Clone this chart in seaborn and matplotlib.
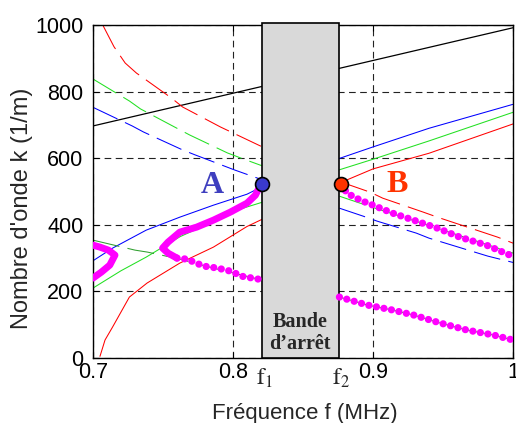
import matplotlib
matplotlib.use("Agg")
import matplotlib.pyplot as plt
from matplotlib.patches import Rectangle
import seaborn as sns

# frequences f (MHz) et nombres d'onde k (1/m) lus sur la figure
# --- branches montantes
blue_up_l_f = [0.700, 0.714, 0.738, 0.762, 0.786, 0.810, 0.821]
blue_up_l_k = [292, 330, 384, 423, 459, 492, 515]
green_up_l_f = [0.700, 0.720, 0.738, 0.762, 0.786, 0.798, 0.821]
green_up_l_k = [210, 262, 303, 364, 410, 438, 468]
red_up_l_f = [0.705, 0.7086, 0.714, 0.726, 0.7386, 0.762, 0.786, 0.810, 0.821]
red_up_l_k = [5, 54, 93, 183, 225, 285, 333, 395, 417]
blue_up_r_f = [0.875, 0.900, 0.940, 1.000]
blue_up_r_k = [598, 634, 690, 762]
green_up_r_f = [0.875, 0.900, 0.940, 1.000]
green_up_r_k = [564, 597, 652, 738]
red_up_r_f = [0.8775, 0.900, 0.940, 1.000]
red_up_r_k = [528, 568, 615, 703]
black_f = [0.700, 1.000]
black_k = [697, 992]

# --- branches descendantes
red_dn_l_f = [0.707, 0.715, 0.723, 0.731, 0.756, 0.764, 0.791, 0.800, 0.821]
red_dn_l_k = [1000, 935, 886, 856, 781, 754, 694, 676, 634]
green_dn_l_f = [0.700, 0.726, 0.734, 0.760, 0.769, 0.796, 0.806, 0.821]
green_dn_l_k = [838, 772, 748, 690, 670, 616, 600, 577]
blue_dn_l_f = [0.700, 0.728, 0.736, 0.764, 0.773, 0.801, 0.811, 0.821]
blue_dn_l_k = [753, 697, 679, 625, 610, 565, 550, 535]
green_low_l_f = [0.700, 0.730, 0.739, 0.762, 0.786, 0.818]
green_low_l_k = [354, 324, 318, 297, 270, 237]
red_dn_r_f = [0.8775, 0.898, 0.907, 0.936, 0.946, 0.989, 1.000]
red_dn_r_k = [528, 498, 480, 438, 423, 363, 345]
green_dn_r_f = [0.876, 0.900, 0.940, 1.000]
green_dn_r_k = [486, 452, 398, 315]
blue_dn_r_f = [0.876, 0.893, 0.903, 0.931, 0.940, 0.982, 1.000]
blue_dn_r_k = [450, 426, 411, 375, 360, 306, 287]
green_low_r_f = [0.876, 0.896, 0.914, 0.929, 0.948, 0.967, 0.986, 1.000]
green_low_r_k = [183, 159, 144, 129, 105, 84, 69, 54]

# --- courbes magenta (mode couple)
mag1_f = [0.700, 0.705, 0.711, 0.7157, 0.712, 0.706, 0.700]
mag1_k = [339, 333, 324, 309, 279, 258, 240]
mag2_f = [0.760, 0.7536, 0.7497, 0.7536, 0.762, 0.774, 0.786, 0.798, 0.810, 0.816, 0.8185, 0.8207]
mag2_k = [300, 315, 330, 348, 378, 393, 414, 438, 465, 489, 510, 522]
mag2_dots_f = [0.760, 0.767, 0.779, 0.789, 0.798, 0.807, 0.818]
mag2_dots_k = [300, 297, 276, 270, 261, 245, 237]
mag3_f = [0.8775, 0.8814, 0.891, 0.900, 0.914, 0.929, 0.946, 0.962, 0.981, 1.000]
mag3_k = [522, 495, 474, 459, 435, 414, 390, 363, 339, 305]
mag4_f = green_low_r_f
mag4_k = green_low_r_k

# bande d'arret et points A / B
f1 = 0.8207
f2 = 0.8755
pt_A = (0.8207, 522)
pt_B = (0.8775, 522)

xticks = [0.7, 0.8, 0.9, 1.0]
xtick_labels = ["0.7", "0.8", "0.9", "1"]
yticks = [0, 200, 400, 600, 800, 1000]

RED, GREEN, BLUE, MAG = "#ff0000", "#22e022", "#0000ff", "#ff00ff"
DASH = (0, (26, 8))


def trace(ax, f, k, color, lw=0.75, ls="-", z=2, **kw):
    sns.lineplot(x=f, y=k, sort=False, estimator=None, color=color, lw=lw,
                 linestyle=ls, ax=ax, zorder=z, **kw)


def main():
    sns.set_style("ticks")
    plt.rcParams["font.family"] = ["Liberation Sans", "DejaVu Sans"]
    plt.rcParams["mathtext.fontset"] = "stix"

    fig = plt.figure(figsize=(5.16, 4.23), dpi=100)
    ax = fig.add_axes([0.1802, 0.1537, 0.814, 0.787])

    # montantes
    trace(ax, black_f, black_k, "black", lw=0.9)
    trace(ax, blue_up_l_f, blue_up_l_k, BLUE)
    trace(ax, green_up_l_f, green_up_l_k, GREEN)
    trace(ax, red_up_l_f, red_up_l_k, RED)
    trace(ax, blue_up_r_f, blue_up_r_k, BLUE)
    trace(ax, green_up_r_f, green_up_r_k, GREEN)
    trace(ax, red_up_r_f, red_up_r_k, RED)
    # descendantes (traits interrompus)
    trace(ax, red_dn_l_f, red_dn_l_k, RED, ls=DASH)
    trace(ax, green_dn_l_f, green_dn_l_k, GREEN, ls=DASH)
    trace(ax, blue_dn_l_f, blue_dn_l_k, BLUE, ls=DASH)
    trace(ax, green_low_l_f, green_low_l_k, "#2f9f2f", ls=DASH)
    trace(ax, red_dn_r_f, red_dn_r_k, RED, ls=DASH)
    trace(ax, green_dn_r_f, green_dn_r_k, GREEN, ls=DASH)
    trace(ax, blue_dn_r_f, blue_dn_r_k, BLUE, ls=DASH)
    trace(ax, green_low_r_f, green_low_r_k, GREEN)

    # magenta
    trace(ax, mag1_f, mag1_k, MAG, lw=5, z=4, solid_capstyle="round")
    trace(ax, mag2_f, mag2_k, MAG, lw=5, z=4, solid_capstyle="round")
    dots = (0, (0.01, 1.05))
    trace(ax, mag2_dots_f, mag2_dots_k, MAG, lw=5.2, ls=dots, z=4, dash_capstyle="round")
    trace(ax, mag3_f, mag3_k, MAG, lw=5.2, ls=dots, z=4, dash_capstyle="round")
    trace(ax, mag4_f, mag4_k, MAG, lw=5.2, ls=dots, z=4, dash_capstyle="round")

    # bande d'arret
    ax.add_patch(Rectangle((f1, 0), f2 - f1, 1006, facecolor="#d9d9d9",
                           edgecolor="black", lw=1.2, zorder=3, clip_on=False))
    ax.text((f1 + f2) / 2, 75, "Bande\nd\u2019arr\u00eat", ha="center", va="center",
            fontsize=14.5, fontweight="bold", family="Liberation Serif",
            linespacing=1.15, zorder=6)

    ax.plot(*pt_A, "o", ms=10, mfc="#3a3acc", mec="black", mew=1.2, zorder=6, clip_on=False)
    ax.plot(*pt_B, "o", ms=10, mfc="#ff3300", mec="black", mew=1.2, zorder=6, clip_on=False)
    ax.text(0.785, 519, "A", color="#3f3fbf", fontsize=23, fontweight="bold",
            family="Liberation Serif", ha="center", va="center", zorder=6)
    ax.text(0.917, 522, "B", color="#ff3300", fontsize=23, fontweight="bold",
            family="Liberation Serif", ha="center", va="center", zorder=6)

    ax.set_xlim(0.7, 1.0)
    ax.set_ylim(0, 1000)
    ax.set_xticks(xticks)
    ax.set_xticklabels(xtick_labels)
    ax.set_yticks(yticks)
    ax.tick_params(direction="in", length=4, width=0.8, top=True, right=True,
                   labelsize=15.5, colors="black")
    ax.tick_params(axis="x", pad=3)
    ax.tick_params(axis="y", pad=7)
    ax.grid(True, color="#222222", linestyle=(0, (6, 4)), lw=0.8)
    ax.set_axisbelow(True)
    for s in ax.spines.values():
        s.set_color("black")
        s.set_linewidth(1.0)

    # f1 et f2 sous l'axe
    for fx, lab in [(f1, "$\\mathrm{f}_1$"), (f2, "$\\mathrm{f}_2$")]:
        ax.text(fx + 0.0015, -0.025, lab, transform=ax.get_xaxis_transform(),
                ha="center", va="top", fontsize=17)

    ax.set_xlabel("Fréquence f (MHz)", fontsize=16)
    ax.set_ylabel("Nombre d'onde k (1/m)", fontsize=17)
    ax.xaxis.set_label_coords(0.505, -0.135)
    ax.yaxis.set_label_coords(-0.143, 0.45)

    fig.savefig("out.png", dpi=100)


if __name__ == "__main__":
    main()
